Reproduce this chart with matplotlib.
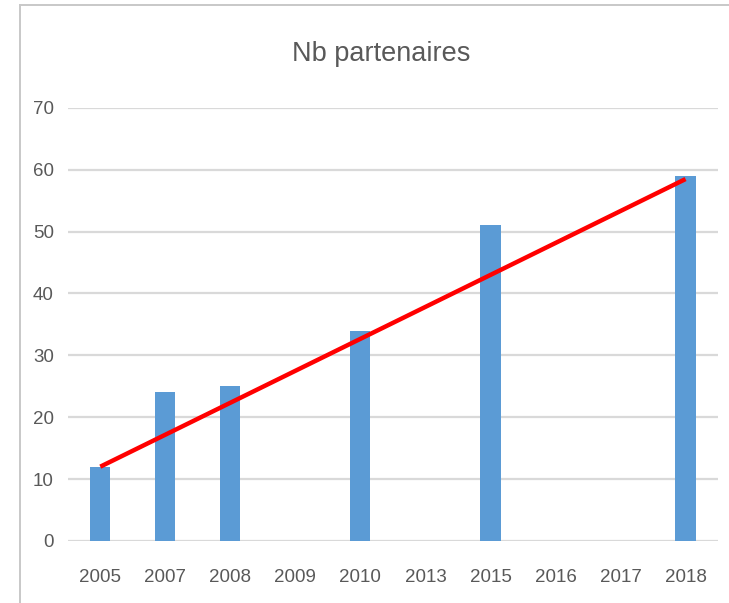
import numpy as np
import matplotlib.pyplot as plt
from matplotlib.lines import Line2D

plt.rcParams['font.family'] = ['Liberation Sans Narrow', 'Liberation Sans', 'DejaVu Sans']

# data
years = ['2005', '2007', '2008', '2009', '2010', '2013', '2015', '2016', '2017', '2018']
partners = [12, 24, 25, 0, 34, 0, 51, 0, 0, 59]
trend_ends = [12, 58.5]  # red trend line, first and last category

fig = plt.figure(figsize=(7.29, 6.03), dpi=100)
ax = fig.add_axes([0.093, 0.103, 0.892, 0.718])

x = np.arange(len(years))
ax.bar(x, partners, width=0.31, color='#5b9bd5', zorder=2)
ax.plot([x[0], x[-1]], trend_ends, color='#ff0000', lw=3.2, solid_capstyle='butt', zorder=3)

ax.set_ylim(0, 70)
ax.set_xlim(-0.5, len(years) - 0.5)
ax.set_yticks(range(0, 71, 10))
ax.set_xticks(x)
ax.set_xticklabels(years)
ax.grid(axis='y', color='#d9d9d9', lw=1.6, zorder=0)
ax.tick_params(length=0, labelsize=13.5, colors='#595959')
ax.tick_params(axis='y', pad=10)
ax.tick_params(axis='x', pad=20)
for s in ax.spines.values():
    s.set_visible(False)

fig.text(0.523, 0.91, 'Nb partenaires', ha='center', va='center', fontsize=19.5, color='#595959')

# outer chart border (top and left edges visible)
fig.add_artist(Line2D([20 / 729, 20 / 729], [0, 1 - 5 / 603], transform=fig.transFigure, color='#c8c8c8', lw=1.4))
fig.add_artist(Line2D([20 / 729, 1], [1 - 5 / 603, 1 - 5 / 603], transform=fig.transFigure, color='#c8c8c8', lw=1.4))

fig.savefig('out.png', dpi=100)
